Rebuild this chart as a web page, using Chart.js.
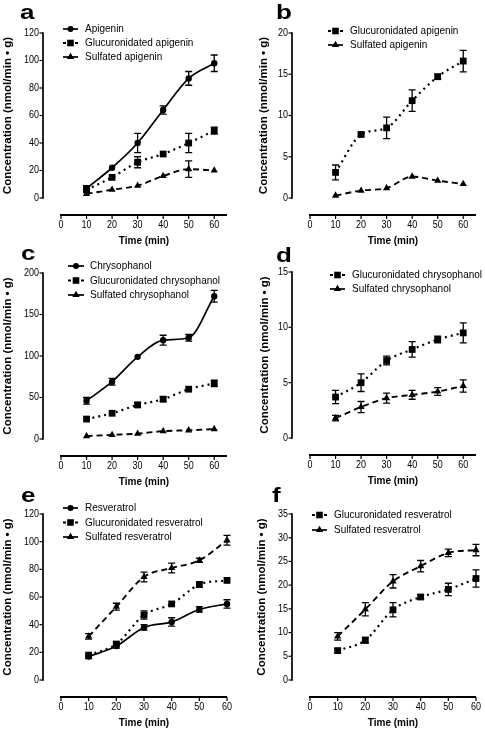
<!DOCTYPE html>
<html><head><meta charset="utf-8">
<script src="https://cdn.jsdelivr.net/npm/chart.js@4.4.1/dist/chart.umd.min.js"></script>
<style>
html,body{margin:0;padding:0;background:#fff;}
#wrap{position:relative;width:485px;height:730px;overflow:hidden;background:#fff;}
canvas{position:absolute;left:0;top:0;}
</style></head><body><div id="wrap">
<canvas id="ca" width="485" height="730"></canvas>
<canvas id="cb" width="485" height="730"></canvas>
<canvas id="cc" width="485" height="730"></canvas>
<canvas id="cd" width="485" height="730"></canvas>
<canvas id="ce" width="485" height="730"></canvas>
<canvas id="cf" width="485" height="730"></canvas>
</div>
<script>
// ---------- data ----------
const timeMin = [10, 20, 30, 40, 50, 60];
const xTicks = [0, 10, 20, 30, 40, 50, 60];

// panel a
const apigenin        = [7, 22, 40, 64, 87, 98];
const apigeninErr     = [2, 1, 7, 3, 5, 6];
const glucApigeninA   = [6, 15, 26, 32, 40, 49];
const glucApigeninAErr= [2, 1, 4, 1, 7, 2.5];
const sulfApigeninA   = [3, 6, 9, 16, 21, 20];
const sulfApigeninAErr= [1, 0.5, 0.5, 0.5, 6, 0.5];
const yTicksA = [0, 20, 40, 60, 80, 100, 120];

// panel b
const glucApigeninB   = [3.1, 7.7, 8.5, 11.8, 14.7, 16.6];
const glucApigeninBErr= [0.9, 0.2, 1.3, 1.3, 0.3, 1.3];
const sulfApigeninB   = [0.3, 0.9, 1.2, 2.6, 2.1, 1.7];
const sulfApigeninBErr= [0, 0, 0, 0, 0, 0];
const yTicksB = [0, 5, 10, 15, 20];

// panel c
const chrysophanol    = [46, 69, 99, 119, 122, 172];
const chrysophanolErr = [4, 4, 1, 6, 4, 7];
const glucChrysoC     = [24, 31, 41, 48, 60, 67];
const glucChrysoCErr  = [1, 1, 3, 3, 1, 4];
const sulfChrysoC     = [3.5, 5, 6.5, 9.5, 10.5, 12];
const sulfChrysoCErr  = [0, 0, 0, 0, 0, 0];
const yTicksC = [0, 50, 100, 150, 200];

// panel d
const glucChrysoD     = [3.7, 5.0, 7.0, 8.0, 8.9, 9.5];
const glucChrysoDErr  = [0.6, 0.8, 0.4, 0.7, 0.3, 0.9];
const sulfChrysoD     = [1.8, 2.8, 3.6, 3.9, 4.2, 4.7];
const sulfChrysoDErr  = [0.25, 0.5, 0.45, 0.4, 0.35, 0.55];
const yTicksD = [0, 5, 10, 15];

// panel e
const resveratrol     = [17, 24.5, 38, 42, 51, 55];
const resveratrolErr  = [1.5, 1.5, 2, 3, 2, 3];
const glucResvE       = [18, 26, 47, 55, 69, 72];
const glucResvEErr    = [1, 1.5, 3, 1, 2, 1];
const sulfResvE       = [31.5, 53, 74.5, 81, 86.5, 101];
const sulfResvEErr    = [2, 2.5, 3.5, 3.5, 1.5, 3.5];
const yTicksE = [0, 20, 40, 60, 80, 100, 120];

// panel f
const glucResvF       = [6.2, 8.4, 14.8, 17.5, 19.1, 21.4];
const glucResvFErr    = [0.4, 0.6, 1.5, 0.5, 1.3, 1.8];
const sulfResvF       = [9.2, 14.9, 20.8, 24.0, 26.8, 27.4];
const sulfResvFErr    = [0.8, 1.4, 1.4, 1.2, 0.8, 1.2];
const yTicksF = [0, 5, 10, 15, 20, 25, 30, 35];

const xTitle = 'Time (min)';
const yTitle = 'Concentration (nmol/min \u2022 g)';

// ---------- styling helpers ----------
const FONT = '"Liberation Sans", Arial, sans-serif';
const SY = 1.15;

function pts(vals) { return timeMin.map((t, i) => ({ x: t, y: vals[i] })); }

const STY = {
  solid:  { dash: [], width: 1.7, legend: 'solid' },
  dotted: { dash: [2, 4], width: 2.2, legend: 'ends' },
  dashed: { dash: [6, 4], width: 1.9, legend: 'solid' }
};
function ds(label, vals, err, style, marker) {
  const s = STY[style];
  let radius = marker === 'circle' ? 3.2 : marker === 'rect' ? 4.8 : 4.2;
  return {
    label, data: pts(vals), errs: err, legendLine: s.legend, marker,
    borderColor: '#000', backgroundColor: '#000', borderWidth: s.width,
    borderDash: s.dash, cubicInterpolationMode: 'monotone', clip: false,
    pointStyle: marker, pointRadius: radius, pointBackgroundColor: '#000',
    pointBorderColor: '#000', pointBorderWidth: 0
  };
}

function txt(ctx, text, x, y, font, align, baseline, sx, sy, rot) {
  ctx.save();
  ctx.translate(x, y);
  if (rot) ctx.rotate(rot);
  ctx.scale(sx, sy);
  ctx.font = font; ctx.textAlign = align; ctx.textBaseline = baseline;
  ctx.fillStyle = '#000';
  ctx.fillText(text, 0, 0);
  ctx.restore();
}

function marker(ctx, kind, x, y) {
  ctx.fillStyle = '#000';
  ctx.beginPath();
  if (kind === 'circle') { ctx.arc(x, y, 3, 0, Math.PI * 2); }
  else if (kind === 'rect') { ctx.rect(x - 3.3, y - 3.3, 6.6, 6.6); }
  else { const r = 4.2; ctx.moveTo(x, y - r); ctx.lineTo(x + r * 0.866, y + r * 0.5); ctx.lineTo(x - r * 0.866, y + r * 0.5); ctx.closePath(); }
  ctx.fill();
}

function prism(p) {
  return {
    id: 'prism' + p.letter,
    beforeDatasetsDraw(chart) {
      const ctx = chart.ctx, xs = chart.scales.x, ys = chart.scales.y;
      ctx.save();
      ctx.strokeStyle = '#000'; ctx.lineWidth = 1.3; ctx.setLineDash([]);
      chart.data.datasets.forEach(d => {
        d.data.forEach((pt, i) => {
          const e = d.errs[i];
          if (!e) return;
          const px = xs.getPixelForValue(pt.x);
          const y1 = ys.getPixelForValue(pt.y + e), y2 = ys.getPixelForValue(pt.y - e);
          if (Math.abs(y2 - y1) < 3) return;
          ctx.beginPath();
          ctx.moveTo(px, y1); ctx.lineTo(px, y2);
          ctx.moveTo(px - 3.5, y1); ctx.lineTo(px + 3.5, y1);
          ctx.moveTo(px - 3.5, y2); ctx.lineTo(px + 3.5, y2);
          ctx.stroke();
        });
      });
      ctx.restore();
    },
    afterDraw(chart) {
      const ctx = chart.ctx, xs = chart.scales.x, ys = chart.scales.y;
      const ca = chart.chartArea;
      const ax = ca.left - 18, ay = ca.bottom + 17;
      ctx.save();
      ctx.strokeStyle = '#000'; ctx.setLineDash([]);
      // y axis
      ctx.lineWidth = 1.7;
      const yTop = ys.getPixelForValue(p.yTicks[p.yTicks.length - 1]);
      const yBot = ys.getPixelForValue(p.yTicks[0]);
      ctx.beginPath(); ctx.moveTo(ax, yTop - 0.8); ctx.lineTo(ax, yBot + 0.8); ctx.stroke();
      ctx.lineWidth = 1.2;
      p.yTicks.forEach(v => {
        const py = ys.getPixelForValue(v);
        ctx.beginPath(); ctx.moveTo(ax - 3.5, py); ctx.lineTo(ax, py); ctx.stroke();
        txt(ctx, String(v), ax - 4, py, '9px ' + FONT, 'right', 'middle', 1, SY);
      });
      // x axis
      ctx.lineWidth = 2;
      const x0 = xs.getPixelForValue(0), x1 = xs.getPixelForValue(p.xMax);
      ctx.beginPath(); ctx.moveTo(x0 - 1, ay); ctx.lineTo(x1, ay); ctx.stroke();
      ctx.lineWidth = 1.2;
      xTicks.forEach(v => {
        const px = xs.getPixelForValue(v);
        ctx.beginPath(); ctx.moveTo(px, ay); ctx.lineTo(px, ay + 4); ctx.stroke();
        txt(ctx, String(v), px, ay + 10.5, '9px ' + FONT, 'center', 'middle', 1, SY);
      });
      // titles
      txt(ctx, xTitle, (x0 + x1) / 2, ay + 26, 'bold 10px ' + FONT, 'center', 'middle', 1, SY);
      txt(ctx, yTitle, p.titleX, (yTop + yBot) / 2, 'bold 10px ' + FONT, 'center', 'middle', SY, 1, -Math.PI / 2);
      // panel letter
      txt(ctx, p.letter, p.letterX, p.letterY, 'bold 26px ' + FONT, 'left', 'alphabetic', 1, 0.8);
      // legend
      chart.data.datasets.forEach((d, i) => {
        const ly = p.lg.y + i * p.lg.dy;
        ctx.lineWidth = 1.7; ctx.setLineDash([]);
        ctx.beginPath();
        if (d.legendLine === 'solid') { ctx.moveTo(p.lg.x0, ly); ctx.lineTo(p.lg.x1, ly); }
        else { ctx.lineWidth = 2.2; ctx.moveTo(p.lg.x0, ly); ctx.lineTo(p.lg.x0 + 3, ly); ctx.moveTo(p.lg.x1 - 3, ly); ctx.lineTo(p.lg.x1, ly); }
        ctx.stroke();
        marker(ctx, d.marker, (p.lg.x0 + p.lg.x1) / 2, ly);
        txt(ctx, d.label, p.lg.tx, ly, '10px ' + FONT, 'left', 'middle', 1, SY);
      });
      ctx.restore();
    }
  };
}

const panels = [
  { canvas: 'ca', letter: 'a', left: 61, right: 227, top: 33, bottom: 198, xMax: 65, yTicks: yTicksA,
    titleX: 8, letterX: 20, letterY: 19, lg: { x0: 63, x1: 78, tx: 85, y: 29, dy: 14 },
    datasets: [
      ds('Apigenin', apigenin, apigeninErr, 'solid', 'circle'),
      ds('Glucuronidated apigenin', glucApigeninA, glucApigeninAErr, 'dotted', 'rect'),
      ds('Sulfated apigenin', sulfApigeninA, sulfApigeninAErr, 'dashed', 'triangle')] },
  { canvas: 'cb', letter: 'b', left: 310, right: 476, top: 33, bottom: 198, xMax: 65, yTicks: yTicksB,
    titleX: 264, letterX: 276, letterY: 19, lg: { x0: 328, x1: 343, tx: 350, y: 31, dy: 14 },
    datasets: [
      ds('Glucuronidated apigenin', glucApigeninB, glucApigeninBErr, 'dotted', 'rect'),
      ds('Sulfated apigenin', sulfApigeninB, sulfApigeninBErr, 'dashed', 'triangle')] },
  { canvas: 'cc', letter: 'c', left: 61, right: 227, top: 273, bottom: 439, xMax: 65, yTicks: yTicksC,
    titleX: 8, letterX: 21, letterY: 260, lg: { x0: 68, x1: 84, tx: 90, y: 266, dy: 14.5 },
    datasets: [
      ds('Chrysophanol', chrysophanol, chrysophanolErr, 'solid', 'circle'),
      ds('Glucuronidated chrysophanol', glucChrysoC, glucChrysoCErr, 'dotted', 'rect'),
      ds('Sulfated chrysophanol', sulfChrysoC, sulfChrysoCErr, 'dashed', 'triangle')] },
  { canvas: 'cd', letter: 'd', left: 310, right: 476, top: 272, bottom: 438, xMax: 65, yTicks: yTicksD,
    titleX: 265, letterX: 276, letterY: 262, lg: { x0: 330, x1: 345, tx: 352, y: 275, dy: 14 },
    datasets: [
      ds('Glucuronidated chrysophanol', glucChrysoD, glucChrysoDErr, 'dotted', 'rect'),
      ds('Sulfated chrysophanol', sulfChrysoD, sulfChrysoDErr, 'dashed', 'triangle')] },
  { canvas: 'ce', letter: 'e', left: 61, right: 227, top: 514, bottom: 680, xMax: 60, yTicks: yTicksE,
    titleX: 8, letterX: 21, letterY: 502, lg: { x0: 63, x1: 78, tx: 85, y: 508, dy: 14.5 },
    datasets: [
      ds('Resveratrol', resveratrol, resveratrolErr, 'solid', 'circle'),
      ds('Glucuronidated resveratrol', glucResvE, glucResvEErr, 'dotted', 'rect'),
      ds('Sulfated resveratrol', sulfResvE, sulfResvEErr, 'dashed', 'triangle')] },
  { canvas: 'cf', letter: 'f', left: 310, right: 476, top: 514, bottom: 680, xMax: 60, yTicks: yTicksF,
    titleX: 262, letterX: 272, letterY: 502, lg: { x0: 312, x1: 327, tx: 334, y: 515, dy: 15 },
    datasets: [
      ds('Glucuronidated resveratrol', glucResvF, glucResvFErr, 'dotted', 'rect'),
      ds('Sulfated resveratrol', sulfResvF, sulfResvFErr, 'dashed', 'triangle')] }
];

panels.forEach(p => {
  new Chart(document.getElementById(p.canvas), {
    type: 'line',
    data: { datasets: p.datasets },
    options: {
      responsive: false, animation: false, devicePixelRatio: 1,
      layout: { padding: { left: p.left, right: 485 - p.right, top: p.top, bottom: 730 - p.bottom } },
      scales: {
        x: { type: 'linear', display: false, min: 0, max: p.xMax },
        y: { type: 'linear', display: false, min: 0, max: p.yTicks[p.yTicks.length - 1] }
      },
      plugins: { legend: { display: false }, tooltip: { enabled: false } }
    },
    plugins: [prism(p)]
  });
});
</script></body></html>
